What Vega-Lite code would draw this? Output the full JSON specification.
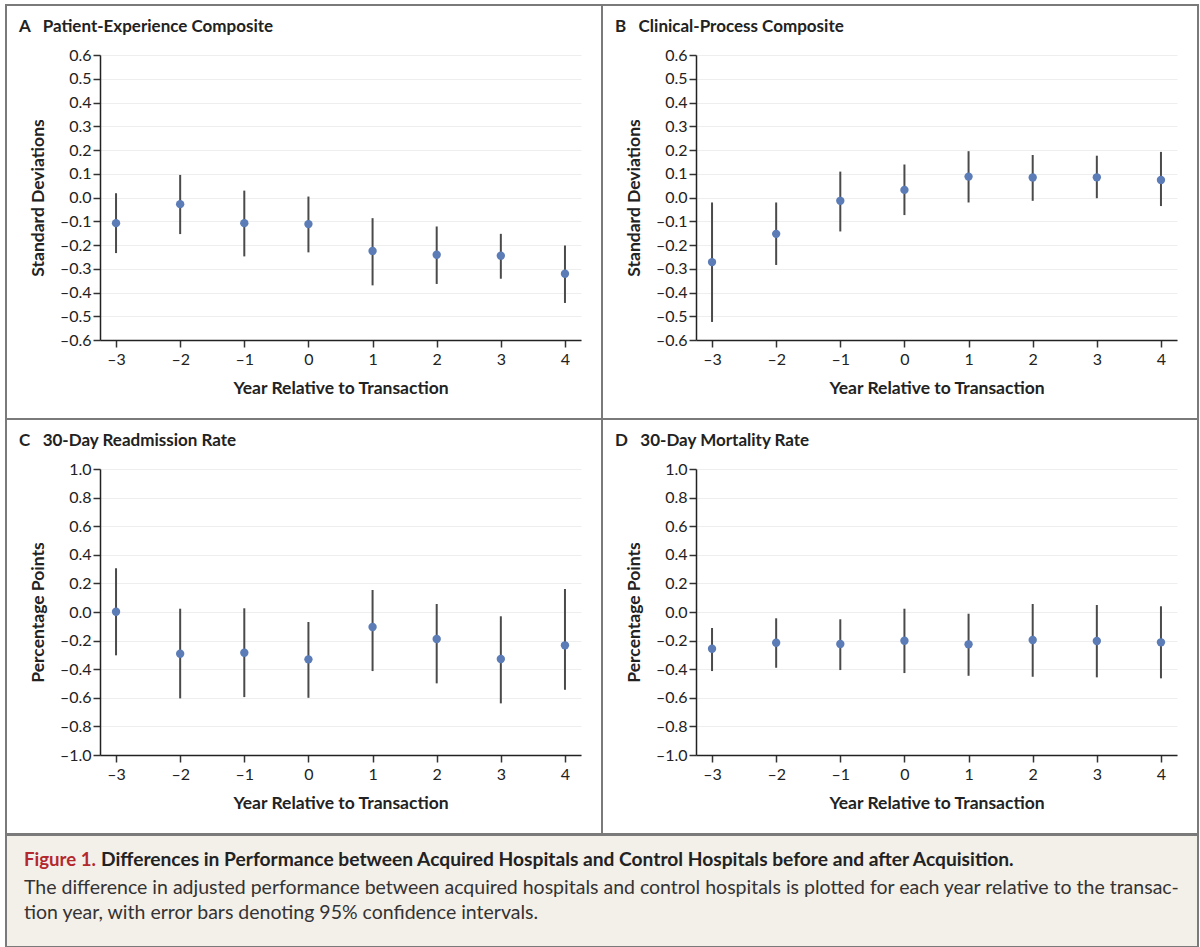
{
  "$schema": "https://vega.github.io/schema/vega-lite/v6.json",
  "padding": {"left": 5, "top": 4, "right": 0, "bottom": 0},
  "spacing": -2,
  "config": {
    "font": "Lato",
    "view": {"stroke": "#7a7a7a", "strokeWidth": 2},
    "axis": {
      "domainColor": "#222222", "domainWidth": 1.5,
      "tickColor": "#333333", "tickWidth": 1.5, "tickSize": 7,
      "labelFont": "Lato", "labelFontSize": 16, "labelColor": "#222222", "labelOverlap": false,
      "titleFont": "Lato", "titleFontSize": 17.5, "titleFontWeight": "bold", "titleColor": "#222222",
      "gridColor": "#eeeeee", "gridWidth": 1
    },
    "axisX": {"labelPadding": 4, "titlePadding": 12, "grid": false},
    "axisY": {"labelPadding": 2, "titlePadding": 12, "grid": true},
    "title": {"anchor": "start", "frame": "group", "offset": -31, "dx": 13, "fontSize": 17, "fontWeight": "bold", "baseline": "alphabetic", "font": "Lato", "color": "#222222"}
  },
  "vconcat": [
    {
      "columns": 2,
      "spacing": 0,
      "bounds": "flush",
      "concat": [
        {
          "width": 596, "height": 414,
          "title": {"text": "A\u00a0\u00a0\u00a0Patient-Experience Composite"},
          "data": {"values": [
            {"year": -3, "est": -0.108, "hi": 0.018, "lo": -0.234},
            {"year": -2, "est": -0.028, "hi": 0.095, "lo": -0.154},
            {"year": -1, "est": -0.108, "hi": 0.029, "lo": -0.248},
            {"year": 0, "est": -0.112, "hi": 0.004, "lo": -0.231},
            {"year": 1, "est": -0.225, "hi": -0.087, "lo": -0.370},
            {"year": 2, "est": -0.241, "hi": -0.122, "lo": -0.364},
            {"year": 3, "est": -0.245, "hi": -0.153, "lo": -0.342},
            {"year": 4, "est": -0.321, "hi": -0.202, "lo": -0.444}
          ]},
          "encoding": {
            "x": {"field": "year", "type": "quantitative",
              "scale": {"domain": [-3.25, 4.25], "range": [94, 575], "nice": false, "zero": false},
              "axis": {"values": [-3, -2, -1, 0, 1, 2, 3, 4], "labelExpr": "datum.value < 0 ? '–' + format(abs(datum.value), 'd') : format(datum.value, 'd')", "offset": -79, "title": "Year Relative to Transaction"}}
          },
          "layer": [
            {
              "data": {"values": [{"ref": 0}]},
              "mark": {"type": "rule", "strokeDash": [6, 4], "color": "#222222", "strokeWidth": 1.5},
              "encoding": {
                "y": {"field": "ref", "type": "quantitative",
                  "scale": {"domain": [-0.6, 0.6], "range": [335, 50], "nice": false, "zero": false},
                  "axis": {"values": [-0.6, -0.5, -0.4, -0.3, -0.2, -0.1, 0, 0.1, 0.2, 0.3, 0.4, 0.5, 0.6], "labelExpr": "datum.value < -0.001 ? '–' + format(abs(datum.value), '.1f') : format(abs(datum.value), '.1f')", "offset": -94, "title": "Standard Deviations"}},
                "x": {"datum": -3.25},
                "x2": {"datum": 4.25}
              }
            },
            {
              "mark": {"type": "rule", "color": "#4a4a4a", "strokeWidth": 2},
              "encoding": {
                "y": {"field": "lo", "type": "quantitative",
                  "scale": {"domain": [-0.6, 0.6], "range": [335, 50], "nice": false, "zero": false},
                  "axis": {"values": [-0.6, -0.5, -0.4, -0.3, -0.2, -0.1, 0, 0.1, 0.2, 0.3, 0.4, 0.5, 0.6], "labelExpr": "datum.value < -0.001 ? '–' + format(abs(datum.value), '.1f') : format(abs(datum.value), '.1f')", "offset": -94, "title": "Standard Deviations"}},
                "y2": {"field": "hi"}
              }
            },
            {
              "mark": {"type": "point", "filled": true, "shape": "circle", "size": 70, "color": "#5b7cb6", "opacity": 1},
              "encoding": {"y": {"field": "est", "type": "quantitative",
                  "scale": {"domain": [-0.6, 0.6], "range": [335, 50], "nice": false, "zero": false},
                  "axis": {"values": [-0.6, -0.5, -0.4, -0.3, -0.2, -0.1, 0, 0.1, 0.2, 0.3, 0.4, 0.5, 0.6], "labelExpr": "datum.value < -0.001 ? '–' + format(abs(datum.value), '.1f') : format(abs(datum.value), '.1f')", "offset": -94, "title": "Standard Deviations"}}}
            }
          ]
        },
        {
          "width": 596, "height": 414,
          "title": {"text": "B\u00a0\u00a0\u00a0Clinical-Process Composite"},
          "data": {"values": [
            {"year": -3, "est": -0.272, "hi": -0.021, "lo": -0.524},
            {"year": -2, "est": -0.153, "hi": -0.021, "lo": -0.284},
            {"year": -1, "est": -0.014, "hi": 0.109, "lo": -0.143},
            {"year": 0, "est": 0.032, "hi": 0.139, "lo": -0.074},
            {"year": 1, "est": 0.088, "hi": 0.195, "lo": -0.021},
            {"year": 2, "est": 0.084, "hi": 0.179, "lo": -0.014},
            {"year": 3, "est": 0.085, "hi": 0.176, "lo": -0.003},
            {"year": 4, "est": 0.074, "hi": 0.192, "lo": -0.036}
          ]},
          "encoding": {
            "x": {"field": "year", "type": "quantitative",
              "scale": {"domain": [-3.25, 4.25], "range": [94, 575], "nice": false, "zero": false},
              "axis": {"values": [-3, -2, -1, 0, 1, 2, 3, 4], "labelExpr": "datum.value < 0 ? '–' + format(abs(datum.value), 'd') : format(datum.value, 'd')", "offset": -79, "title": "Year Relative to Transaction"}}
          },
          "layer": [
            {
              "data": {"values": [{"ref": 0}]},
              "mark": {"type": "rule", "strokeDash": [6, 4], "color": "#222222", "strokeWidth": 1.5},
              "encoding": {
                "y": {"field": "ref", "type": "quantitative",
                  "scale": {"domain": [-0.6, 0.6], "range": [335, 50], "nice": false, "zero": false},
                  "axis": {"values": [-0.6, -0.5, -0.4, -0.3, -0.2, -0.1, 0, 0.1, 0.2, 0.3, 0.4, 0.5, 0.6], "labelExpr": "datum.value < -0.001 ? '–' + format(abs(datum.value), '.1f') : format(abs(datum.value), '.1f')", "offset": -94, "title": "Standard Deviations"}},
                "x": {"datum": -3.25},
                "x2": {"datum": 4.25}
              }
            },
            {
              "mark": {"type": "rule", "color": "#4a4a4a", "strokeWidth": 2},
              "encoding": {
                "y": {"field": "lo", "type": "quantitative",
                  "scale": {"domain": [-0.6, 0.6], "range": [335, 50], "nice": false, "zero": false},
                  "axis": {"values": [-0.6, -0.5, -0.4, -0.3, -0.2, -0.1, 0, 0.1, 0.2, 0.3, 0.4, 0.5, 0.6], "labelExpr": "datum.value < -0.001 ? '–' + format(abs(datum.value), '.1f') : format(abs(datum.value), '.1f')", "offset": -94, "title": "Standard Deviations"}},
                "y2": {"field": "hi"}
              }
            },
            {
              "mark": {"type": "point", "filled": true, "shape": "circle", "size": 70, "color": "#5b7cb6", "opacity": 1},
              "encoding": {"y": {"field": "est", "type": "quantitative",
                  "scale": {"domain": [-0.6, 0.6], "range": [335, 50], "nice": false, "zero": false},
                  "axis": {"values": [-0.6, -0.5, -0.4, -0.3, -0.2, -0.1, 0, 0.1, 0.2, 0.3, 0.4, 0.5, 0.6], "labelExpr": "datum.value < -0.001 ? '–' + format(abs(datum.value), '.1f') : format(abs(datum.value), '.1f')", "offset": -94, "title": "Standard Deviations"}}}
            }
          ]
        },
        {
          "width": 596, "height": 415,
          "title": {"text": "C\u00a0\u00a0\u00a030-Day Readmission Rate"},
          "data": {"values": [
            {"year": -3, "est": 0.002, "hi": 0.306, "lo": -0.303},
            {"year": -2, "est": -0.292, "hi": 0.023, "lo": -0.604},
            {"year": -1, "est": -0.285, "hi": 0.026, "lo": -0.595},
            {"year": 0, "est": -0.331, "hi": -0.070, "lo": -0.600},
            {"year": 1, "est": -0.105, "hi": 0.154, "lo": -0.413},
            {"year": 2, "est": -0.189, "hi": 0.056, "lo": -0.499},
            {"year": 3, "est": -0.329, "hi": -0.030, "lo": -0.639},
            {"year": 4, "est": -0.233, "hi": 0.161, "lo": -0.544}
          ]},
          "encoding": {
            "x": {"field": "year", "type": "quantitative",
              "scale": {"domain": [-3.25, 4.25], "range": [94, 575], "nice": false, "zero": false},
              "axis": {"values": [-3, -2, -1, 0, 1, 2, 3, 4], "labelExpr": "datum.value < 0 ? '–' + format(abs(datum.value), 'd') : format(datum.value, 'd')", "offset": -79, "title": "Year Relative to Transaction"}}
          },
          "layer": [
            {
              "data": {"values": [{"ref": 0}]},
              "mark": {"type": "rule", "strokeDash": [6, 4], "color": "#222222", "strokeWidth": 1.5},
              "encoding": {
                "y": {"field": "ref", "type": "quantitative",
                  "scale": {"domain": [-1, 1], "range": [336, 50], "nice": false, "zero": false},
                  "axis": {"values": [-1, -0.8, -0.6, -0.4, -0.2, 0, 0.2, 0.4, 0.6, 0.8, 1], "labelExpr": "datum.value < -0.001 ? '–' + format(abs(datum.value), '.1f') : format(abs(datum.value), '.1f')", "offset": -94, "title": "Percentage Points"}},
                "x": {"datum": -3.25},
                "x2": {"datum": 4.25}
              }
            },
            {
              "mark": {"type": "rule", "color": "#4a4a4a", "strokeWidth": 2},
              "encoding": {
                "y": {"field": "lo", "type": "quantitative",
                  "scale": {"domain": [-1, 1], "range": [336, 50], "nice": false, "zero": false},
                  "axis": {"values": [-1, -0.8, -0.6, -0.4, -0.2, 0, 0.2, 0.4, 0.6, 0.8, 1], "labelExpr": "datum.value < -0.001 ? '–' + format(abs(datum.value), '.1f') : format(abs(datum.value), '.1f')", "offset": -94, "title": "Percentage Points"}},
                "y2": {"field": "hi"}
              }
            },
            {
              "mark": {"type": "point", "filled": true, "shape": "circle", "size": 70, "color": "#5b7cb6", "opacity": 1},
              "encoding": {"y": {"field": "est", "type": "quantitative",
                  "scale": {"domain": [-1, 1], "range": [336, 50], "nice": false, "zero": false},
                  "axis": {"values": [-1, -0.8, -0.6, -0.4, -0.2, 0, 0.2, 0.4, 0.6, 0.8, 1], "labelExpr": "datum.value < -0.001 ? '–' + format(abs(datum.value), '.1f') : format(abs(datum.value), '.1f')", "offset": -94, "title": "Percentage Points"}}}
            }
          ]
        },
        {
          "width": 596, "height": 415,
          "title": {"text": "D\u00a0\u00a0\u00a030-Day Mortality Rate"},
          "data": {"values": [
            {"year": -3, "est": -0.257, "hi": -0.112, "lo": -0.413},
            {"year": -2, "est": -0.215, "hi": -0.044, "lo": -0.390},
            {"year": -1, "est": -0.224, "hi": -0.051, "lo": -0.406},
            {"year": 0, "est": -0.201, "hi": 0.023, "lo": -0.427},
            {"year": 1, "est": -0.226, "hi": -0.012, "lo": -0.446},
            {"year": 2, "est": -0.196, "hi": 0.056, "lo": -0.453},
            {"year": 3, "est": -0.203, "hi": 0.049, "lo": -0.457},
            {"year": 4, "est": -0.212, "hi": 0.040, "lo": -0.464}
          ]},
          "encoding": {
            "x": {"field": "year", "type": "quantitative",
              "scale": {"domain": [-3.25, 4.25], "range": [94, 575], "nice": false, "zero": false},
              "axis": {"values": [-3, -2, -1, 0, 1, 2, 3, 4], "labelExpr": "datum.value < 0 ? '–' + format(abs(datum.value), 'd') : format(datum.value, 'd')", "offset": -79, "title": "Year Relative to Transaction"}}
          },
          "layer": [
            {
              "data": {"values": [{"ref": 0}]},
              "mark": {"type": "rule", "strokeDash": [6, 4], "color": "#222222", "strokeWidth": 1.5},
              "encoding": {
                "y": {"field": "ref", "type": "quantitative",
                  "scale": {"domain": [-1, 1], "range": [336, 50], "nice": false, "zero": false},
                  "axis": {"values": [-1, -0.8, -0.6, -0.4, -0.2, 0, 0.2, 0.4, 0.6, 0.8, 1], "labelExpr": "datum.value < -0.001 ? '–' + format(abs(datum.value), '.1f') : format(abs(datum.value), '.1f')", "offset": -94, "title": "Percentage Points"}},
                "x": {"datum": -3.25},
                "x2": {"datum": 4.25}
              }
            },
            {
              "mark": {"type": "rule", "color": "#4a4a4a", "strokeWidth": 2},
              "encoding": {
                "y": {"field": "lo", "type": "quantitative",
                  "scale": {"domain": [-1, 1], "range": [336, 50], "nice": false, "zero": false},
                  "axis": {"values": [-1, -0.8, -0.6, -0.4, -0.2, 0, 0.2, 0.4, 0.6, 0.8, 1], "labelExpr": "datum.value < -0.001 ? '–' + format(abs(datum.value), '.1f') : format(abs(datum.value), '.1f')", "offset": -94, "title": "Percentage Points"}},
                "y2": {"field": "hi"}
              }
            },
            {
              "mark": {"type": "point", "filled": true, "shape": "circle", "size": 70, "color": "#5b7cb6", "opacity": 1},
              "encoding": {"y": {"field": "est", "type": "quantitative",
                  "scale": {"domain": [-1, 1], "range": [336, 50], "nice": false, "zero": false},
                  "axis": {"values": [-1, -0.8, -0.6, -0.4, -0.2, 0, 0.2, 0.4, 0.6, 0.8, 1], "labelExpr": "datum.value < -0.001 ? '–' + format(abs(datum.value), '.1f') : format(abs(datum.value), '.1f')", "offset": -94, "title": "Percentage Points"}}}
            }
          ]
        }
      ]
    },
    {
      "width": 1192, "height": 112,
      "view": {"fill": "#f3efe9", "stroke": "#7a7a7a", "strokeWidth": 2},
      "layer": [
        {
          "data": {"values": [{"t": "Figure 1."}]},
          "mark": {"type": "text", "align": "left", "baseline": "alphabetic", "fontSize": 18.6, "fontWeight": "bold", "color": "#b3282d", "font": "Lato"},
          "encoding": {"text": {"field": "t"}, "x": {"value": 18}, "y": {"value": 31}}
        },
        {
          "data": {"values": [{"t": "Differences in Performance between Acquired Hospitals and Control Hospitals before and after Acquisition."}]},
          "mark": {"type": "text", "align": "left", "baseline": "alphabetic", "fontSize": 19.2, "fontWeight": "bold", "color": "#222222", "font": "Lato"},
          "encoding": {"text": {"field": "t"}, "x": {"value": 95}, "y": {"value": 31}}
        },
        {
          "data": {"values": [{"t": "The difference in adjusted performance between acquired hospitals and control hospitals is plotted for each year relative to the transac-"}]},
          "mark": {"type": "text", "align": "left", "baseline": "alphabetic", "fontSize": 19.5, "color": "#333333", "font": "Lato"},
          "encoding": {"text": {"field": "t"}, "x": {"value": 18}, "y": {"value": 59}}
        },
        {
          "data": {"values": [{"t": "tion year, with error bars denoting 95% confidence intervals."}]},
          "mark": {"type": "text", "align": "left", "baseline": "alphabetic", "fontSize": 19.5, "color": "#333333", "font": "Lato"},
          "encoding": {"text": {"field": "t"}, "x": {"value": 18}, "y": {"value": 84}}
        }
      ]
    }
  ]
}
